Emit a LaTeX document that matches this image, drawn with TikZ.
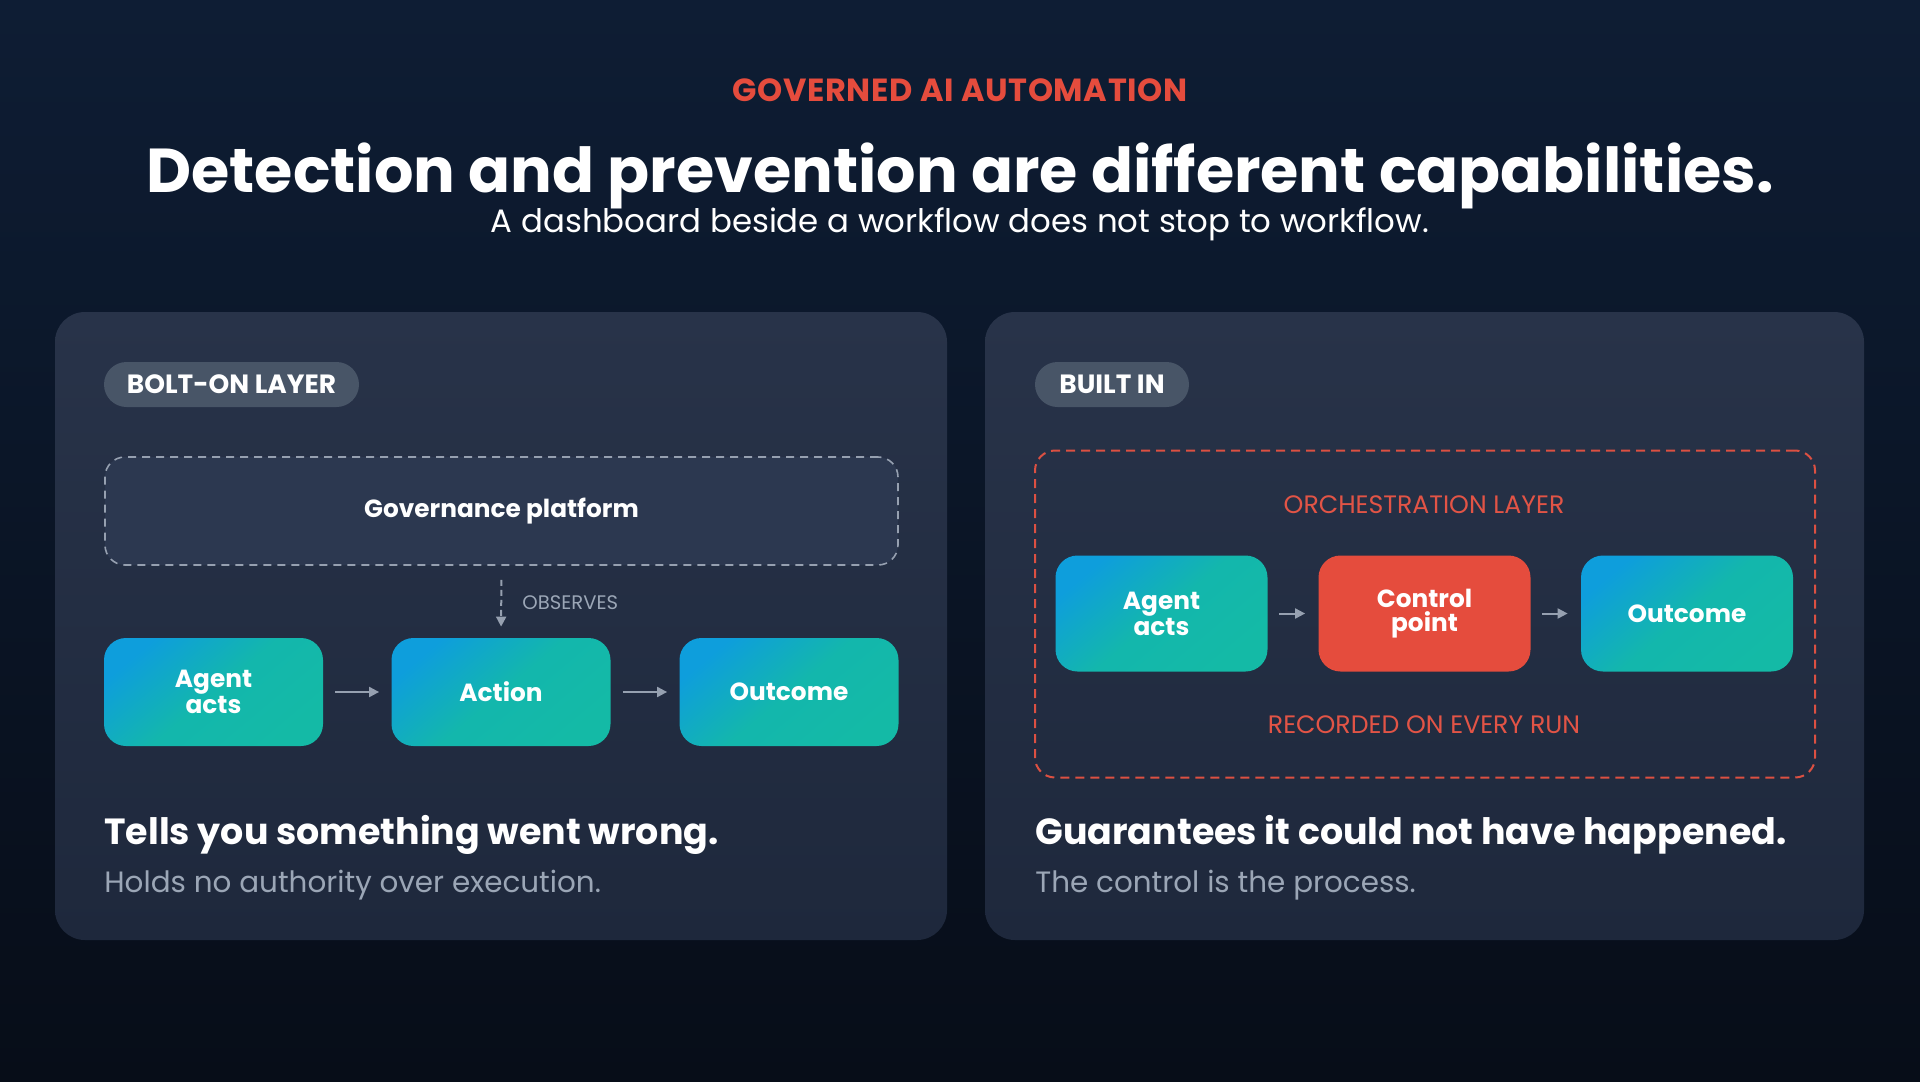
\documentclass[tikz,border=0pt]{standalone}
\usepackage{fontspec}
\setmainfont{Poppins}
\usetikzlibrary{arrows.meta}

\begin{document}
\begin{tikzpicture}[x=0.5pt, y=-0.5pt,
    every node/.style={inner sep=0pt, text=white},
    tag/.style={fill=pillGray, rounded corners=11.25pt, minimum height=22.5pt,
      font=\bfseries\fontsize{13.2}{13.2}\selectfont},
    boxbase/.style={rounded corners=11pt, align=center,
      font=\bfseries\fontsize{12.4}{12}\selectfont},
    flowbox/.style={boxbase, top color=boxBlue, bottom color=boxTeal,
      middle color=boxTeal!88!boxBlue, shading angle=40},
    ctrlbox/.style={boxbase, fill=ctrlRed},
    headline/.style={anchor=base west, font=\bfseries\fontsize{18.2}{18.2}\selectfont},
    note/.style={anchor=base west, text=noteGray, font=\fontsize{14.7}{14.7}\selectfont},
    redlabel/.style={text=labelRed, font=\fontsize{12.6}{12.6}\selectfont},
    flow/.style={draw=arrowGray, line width=1pt, -{Triangle[length=5pt, width=5pt]}}]
    % palette --- sampled by eye from the slide
    \definecolor{bgTop}{RGB}{14,29,52}
    \definecolor{bgBot}{RGB}{7,13,24}
    \definecolor{panelTop}{RGB}{40,51,73}
    \definecolor{panelBot}{RGB}{30,40,60}
    \definecolor{govFill}{RGB}{44,56,80}
    \definecolor{pillGray}{RGB}{72,85,103}
    \definecolor{boxBlue}{RGB}{14,158,220}
    \definecolor{boxTeal}{RGB}{20,186,166}
    \definecolor{ctrlRed}{RGB}{229,76,61}
    \definecolor{labelRed}{RGB}{226,84,70}
    \definecolor{dashRed}{RGB}{220,80,66}
    \definecolor{dashGray}{RGB}{150,160,176}
    \definecolor{arrowGray}{RGB}{150,160,176}
    \definecolor{noteGray}{RGB}{155,166,182}

    % Canvas: 1920 x 1081 px, y grows downwards
    \shade[top color=bgTop, bottom color=bgBot] (0,0) rectangle (1920,1081);
    \useasboundingbox (0,0) rectangle (1920,1081);

    % Header
    \node[anchor=base, text=ctrlRed,
      font=\bfseries\fontsize{16}{16}\selectfont\addfontfeatures{LetterSpace=2}]
      (kicker) at (960,102) {GOVERNED AI AUTOMATION};
    \node[anchor=base, font=\bfseries\fontsize{31}{31}\selectfont]
      (title) at (960,192) {Detection and prevention are different capabilities.};
    \node[anchor=base, font=\fontsize{16.2}{16.2}\selectfont]
      (subtitle) at (960,232) {A dashboard beside a workflow does not stop to workflow.};

    % Panels
    \shade[rounded corners=15pt, top color=panelTop, bottom color=panelBot]
      (55,312) rectangle (947,940);
    \shade[rounded corners=15pt, top color=panelTop, bottom color=panelBot]
      (985,312) rectangle (1864,940);

    % Left panel: bolt-on layer
    \node[tag, minimum width=127.5pt] (bolton) at (231.5,384.5) {BOLT-ON LAYER};
    \node[draw=dashGray, line width=0.8pt, dash pattern=on 4pt off 3pt, fill=govFill,
      rounded corners=10pt, minimum width=396.5pt, minimum height=54pt,
      font=\bfseries\fontsize{12.4}{12.4}\selectfont] (gov) at (501.5,511) {Governance platform};

    \node[flowbox, minimum width=109.5pt, minimum height=54pt] (agentL) at (213.5,692) {Agent\\acts};
    \node[flowbox, minimum width=109.5pt, minimum height=54pt] (action) at (501,692) {Action};
    \node[flowbox, minimum width=109.5pt, minimum height=54pt] (outcomeL) at (789,692) {Outcome};

    \draw[flow, dash pattern=on 3pt off 2pt, shorten <=7pt, shorten >=5.5pt]
      (gov.south) -- (action.north);
    \node[anchor=base west, text=noteGray, font=\fontsize{9.8}{9.8}\selectfont]
      (observes) at (522,609) {OBSERVES};
    \draw[flow, shorten <=6pt, shorten >=6pt] (agentL) -- (action);
    \draw[flow, shorten <=6pt, shorten >=6pt] (action) -- (outcomeL);

    \node[headline] (wrong) at (104,844) {Tells you something went wrong.};
    \node[note] (authority) at (104,892) {Holds no authority over execution.};

    % Right panel: built in
    \node[tag, minimum width=77pt] (builtin) at (1112,384.5) {BUILT IN};
    \node[draw=dashRed, line width=1pt, dash pattern=on 4.5pt off 3pt, rounded corners=10pt,
      minimum width=390pt, minimum height=163.5pt] (orch) at (1425,614) {};
    \node[redlabel, anchor=base] (orchlabel) at (1424,513) {ORCHESTRATION LAYER};

    \node[flowbox, minimum width=106pt, minimum height=58pt] (agentR) at (1161.5,613.5) {Agent\\acts};
    \node[ctrlbox, minimum width=106pt, minimum height=58pt] (control) at (1424.5,613.5) {Control\\point};
    \node[flowbox, minimum width=106pt, minimum height=58pt] (outcomeR) at (1687,613.5) {Outcome};

    \draw[flow, shorten <=5.5pt, shorten >=6.5pt] (agentR) -- (control);
    \draw[flow, shorten <=5.5pt, shorten >=6.5pt] (control) -- (outcomeR);

    \node[redlabel, anchor=base] (recorded) at (1424,733) {RECORDED ON EVERY RUN};

    \node[headline] (happened) at (1035,844) {Guarantees it could not have happened.};
    \node[note] (process) at (1035,892) {The control is the process.};
\end{tikzpicture}
\end{document}
